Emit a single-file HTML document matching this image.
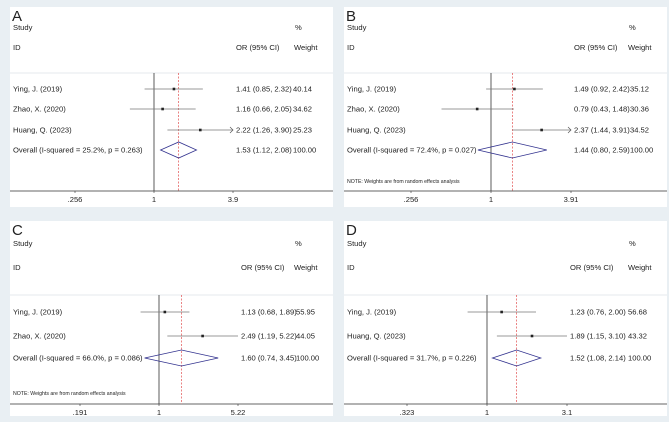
<!DOCTYPE html>
<html><head><meta charset="utf-8"><style>
body{margin:0;background:#e9eff3;}
svg{display:block;font-family:"Liberation Sans",Arial,sans-serif;}
</style></head><body>
<svg id="fig" width="669" height="422" viewBox="0 0 669 422"></svg>
<script>
const studiesA=["Ying, J. (2019)","Zhao, X. (2020)","Huang, Q. (2023)"];
const orA=[1.41,1.16,2.22];const loA=[0.85,0.66,1.26];const hiA=[2.32,2.05,3.90];const wA=["40.14","34.62","25.23"];
const overallA=[1.53,1.12,2.08];const hetA="Overall  (I-squared = 25.2%, p = 0.263)";const ticksA=[".256","1","3.9"];
const studiesB=["Ying, J. (2019)","Zhao, X. (2020)","Huang, Q. (2023)"];
const orB=[1.49,0.79,2.37];const loB=[0.92,0.43,1.44];const hiB=[2.42,1.48,3.91];const wB=["35.12","30.36","34.52"];
const overallB=[1.44,0.80,2.59];const hetB="Overall  (I-squared = 72.4%, p = 0.027)";const ticksB=[".256","1","3.91"];
const studiesC=["Ying, J. (2019)","Zhao, X. (2020)"];
const orC=[1.13,2.49];const loC=[0.68,1.19];const hiC=[1.89,5.22];const wC=["55.95","44.05"];
const overallC=[1.60,0.74,3.45];const hetC="Overall  (I-squared = 66.0%, p = 0.086)";const ticksC=[".191","1","5.22"];
const studiesD=["Ying, J. (2019)","Huang, Q. (2023)"];
const orD=[1.23,1.89];const loD=[0.76,1.15];const hiD=[2.00,3.10];const wD=["56.68","43.32"];
const overallD=[1.52,1.08,2.14];const hetD="Overall  (I-squared = 31.7%, p = 0.226)";const ticksD=[".323","1","3.1"];

const NS="http://www.w3.org/2000/svg";
const svg=document.getElementById('fig');
function mk(tag,attrs,parent,text){const e=document.createElementNS(NS,tag);for(const k in attrs)e.setAttribute(k,attrs[k]);if(text!==undefined)e.textContent=text;parent.appendChild(e);return e;}
function f2(v){return v.toFixed(2);}
function panel(letter,ox,oy,studies,or,lo,hi,w,ov,het,ticks,g){
  const grp=mk('g',{transform:`translate(${ox},${oy})`},svg);
  
  
  const rect=mk('rect',{x:10,y:g.top,width:323,height:g.bottom-g.top,fill:'#fff'},grp);
  
  const tmax=parseFloat(ticks[2]);
  const X=v=>g.c1+Math.log(v)/Math.log(tmax)*g.half;
  const fs='7.6px';
  let t=mk('text',{x:12,y:g.top+14,'font-size':'15px',fill:'#222'},grp,letter);
  
  t=mk('text',{x:13,y:g.study,'font-size':fs,fill:'#222'},grp,'Study');
  t=mk('text',{x:13,y:g.id,'font-size':fs,fill:'#222'},grp,'ID');
  t=mk('text',{x:g.orx,y:g.id,'font-size':fs,fill:'#222'},grp,'OR (95% CI)');
  t=mk('text',{x:295,y:g.study,'font-size':fs,fill:'#222'},grp,'%');
  t=mk('text',{x:294,y:g.id,'font-size':fs,fill:'#222'},grp,'Weight');
  let l=mk('line',{x1:10,x2:333,y1:g.sep,y2:g.sep,stroke:'#e4e8ec','stroke-width':1},grp);
  l=mk('line',{x1:10,x2:333,y1:g.axis,y2:g.axis,stroke:'#333','stroke-width':0.8},grp);
  l=mk('line',{x1:X(1),x2:X(1),y1:g.sep,y2:g.axis,stroke:'#333','stroke-width':0.8},grp);
  l=mk('line',{x1:X(ov[0]),x2:X(ov[0]),y1:g.sep,y2:g.axis,stroke:'#d33','stroke-width':0.6,'stroke-dasharray':'2,1.5'},grp);
  ticks.forEach((tk,i)=>{const v=i==1?1:(i==0?1/tmax:tmax);
    const tl=mk('line',{x1:X(v),x2:X(v),y1:g.axis,y2:g.axis+2,stroke:'#333','stroke-width':0.6},grp);
    const tt=mk('text',{x:X(v),y:g.axis+11,'font-size':fs,'text-anchor':'middle',fill:'#222'},grp,tk);});
  studies.forEach((s,i)=>{const y=g.rows[i];
    let e=mk('text',{x:13,y:y+2.7,'font-size':fs,fill:'#222'},grp,s);
    const arrow=g.arrows&&hi[i]>=tmax;const xe=hi[i]>=tmax?X(tmax):X(hi[i]);
    e=mk('line',{x1:X(lo[i]),x2:xe,y1:y,y2:y,stroke:'#777','stroke-width':0.8},grp);
    if(arrow){e=mk('polyline',{points:`${xe-3},${y-3} ${xe},${y} ${xe-3},${y+3}`,fill:'none',stroke:'#555','stroke-width':0.7},grp);}
    e=mk('rect',{x:X(or[i])-1.3,y:y-1.3,width:2.6,height:2.6,fill:'#222'},grp);
    e=mk('text',{x:g.orx,y:y+2.7,'font-size':fs,fill:'#222'},grp,`${f2(or[i])} (${f2(lo[i])}, ${f2(hi[i])})`);
    e=mk('text',{x:g.wx,y:y+2.7,'font-size':fs,fill:'#222'},grp,w[i]);
  });
  const y=g.rows[studies.length];
  let e=mk('text',{x:13,y:y+2.7,'font-size':fs,fill:'#222'},grp,het);
  e=mk('polygon',{points:`${X(ov[1])},${y} ${X(ov[0])},${y-8} ${X(ov[2])},${y} ${X(ov[0])},${y+8}`,fill:'none',stroke:'#33338f','stroke-width':0.8},grp);
  e=mk('text',{x:g.orx,y:y+2.7,'font-size':fs,fill:'#222'},grp,`${f2(ov[0])} (${f2(ov[1])}, ${f2(ov[2])})`);
  e=mk('text',{x:g.wx,y:y+2.7,'font-size':fs,fill:'#222'},grp,'100.00');
  if(g.note){e=mk('text',{x:13,y:g.note,'font-size':'5.2px',fill:'#222'},grp,'NOTE: Weights are from random effects analysis');}
}
const gTop={top:7,bottom:207,study:30,id:50,sep:73,axis:191,rows:[89,109,130,150]};
const gBot={top:10,bottom:205,study:35,id:59,sep:84,axis:193,rows:[101,125,147]};
panel('A',0,0,studiesA,orA,loA,hiA,wA,overallA,hetA,ticksA,Object.assign({},gTop,{c1:154,half:79,orx:236,wx:293,arrows:true}));
panel('B',334,0,studiesB,orB,loB,hiB,wB,overallB,hetB,ticksB,Object.assign({},gTop,{c1:157,half:80,orx:240,wx:296,note:183,arrows:true}));
panel('C',0,211,studiesC,orC,loC,hiC,wC,overallC,hetC,ticksC,Object.assign({},gBot,{c1:159,half:79,orx:241,wx:296,note:184,arrows:false}));
panel('D',334,211,studiesD,orD,loD,hiD,wD,overallD,hetD,ticksD,Object.assign({},gBot,{c1:153,half:80,orx:236,wx:294,arrows:false}));
</script>
</body></html>
